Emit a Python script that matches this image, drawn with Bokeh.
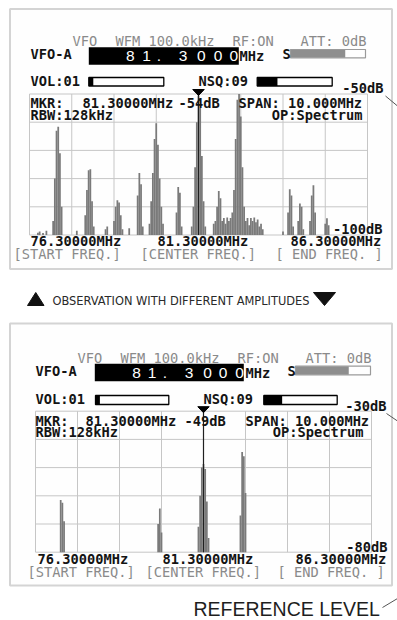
from bokeh.plotting import figure
from bokeh.models import Range1d
from bokeh.core.properties import value
from bokeh.embed import file_html
from bokeh.resources import INLINE

# ------------------------------------------------------------------ data
start_freq, center_freq, end_freq = 76.3, 81.3, 86.3
freq_divisions = [76.30, 77.55, 78.80, 80.05, 81.30, 82.55, 83.80, 85.05, 86.30]
top_levels = [-50, -60, -70, -80, -90, -100]
bottom_levels = [-30, -40, -50, -60, -70, -80]
freq_tick_labels = ["76.30000MHz", "81.30000MHz", "86.30000MHz"]
key_labels = ["[START FREQ.]", "[CENTER FREQ.]", "[ END FREQ. ]"]
vfo_digits = ["8", "1", ".", "3", "0", "0", "0"]

top_freq = [76.55, 76.60, 76.70, 76.80,
            77.00, 77.05, 77.10, 77.15, 77.20, 77.25,
            77.70,
            77.95, 78.00, 78.05, 78.10, 78.15, 78.20,
            78.55, 78.60,
            78.80, 78.85, 78.90, 78.95, 79.00, 79.05,
            79.25,
            79.50, 79.55, 79.60, 79.65,
            79.85, 79.90, 79.95, 80.00, 80.05, 80.10, 80.15, 80.20, 80.25,
            80.65, 80.70, 80.75, 80.80,
            81.10, 81.15, 81.20, 81.25, 81.30, 81.35, 81.40, 81.45, 81.50,
            81.75, 81.80, 81.85, 81.90, 81.95, 82.00, 82.05, 82.10, 82.15, 82.20, 82.25, 82.30,
            82.35, 82.40, 82.45, 82.50, 82.55, 82.60, 82.65,
            82.70, 82.75, 82.80, 82.85, 82.90, 82.95, 83.00, 83.05, 83.10, 83.15, 83.20,
            83.80,
            83.95, 84.00, 84.05, 84.10,
            84.25, 84.30, 84.35, 84.40,
            84.60, 84.65, 84.70, 84.75,
            85.05, 85.10, 85.15]
top_db = [-99.2, -98.8, -99.3, -98.5,
          -95, -80, -63, -61.6, -71, -90,
          -98.5,
          -93, -84, -77, -76.7, -88, -97,
          -98, -97,
          -95, -90, -87.7, -88.5, -93, -98,
          -97.6,
          -86, -78, -82, -97,
          -96, -88, -78, -66, -60.4, -68, -80, -90, -96,
          -92, -83, -85, -97,
          -97, -90, -76, -60, -50.5, -55, -72, -88, -97,
          -96, -95, -90, -84.4, -87, -95, -94, -96, -93.8, -95, -94, -92,
          -84, -66, -52, -50, -58, -76, -90,
          -95, -94, -96.5, -94, -95, -93.8, -95.5, -94.5, -97, -96, -98,
          -98.8,
          -92, -83.8, -86, -97,
          -95, -88.8, -90, -98,
          -95, -86, -82.4, -92,
          -96, -94.1, -96.5]

bottom_freq = [77.05, 77.10, 77.15,
               79.95, 80.00, 80.05,
               81.15, 81.20, 81.25, 81.30, 81.35, 81.40, 81.45,
               82.40, 82.45, 82.50, 82.55]
bottom_db = [-61.5, -62.5, -69,
             -70, -64.5, -73,
             -71, -60, -50, -48.7, -50.5, -62, -75,
             -67, -44.5, -46, -59]

# ------------------------------------------------------------------ canvas
PX0, PX1, PY0, PY1 = 0, 397, 0, 620
p = figure(width=PX1 - PX0, height=PY1 - PY0,
           x_range=Range1d(PX0, PX1), y_range=Range1d(PY1, PY0),
           output_backend="svg", toolbar_location=None, min_border=0,
           x_axis_location=None, y_axis_location=None)
p.grid.visible = False
p.outline_line_color = None
p.background_fill_color = "white"
p.border_fill_color = "white"

GRID = "#c6c6c6"
BAR = "#7a7a7a"
LCD = "#141414"
GRAY = "#8a8a8a"
MONO = value("DejaVu Sans Mono")
BASELINE_FIX = 0.36   # the text renderer sits the baseline this many em lower


def mapped(p0, p1, v0, v1, lo, hi):
    k = (v1 - v0) / (p1 - p0)
    return Range1d(start=v0 + (lo - p0) * k, end=v0 + (hi - p0) * k)


def put_text(items, color, size, font=MONO, style="normal", align="left"):
    fs = float(size.replace("px", ""))
    xs = [i[1] for i in items]
    ys = [i[2] - BASELINE_FIX * fs for i in items]
    ts = [i[0] for i in items]
    p.text(x=xs, y=ys, text=ts, text_color=color, text_font=font,
           text_font_size=size, text_font_style=style, text_align=align,
           text_baseline="alphabetic")


panels = [
    dict(name="top", box=(9.5, 391.5, 8.5, 268.5), grid=(29, 367, 93.5, 234.5),
         levels=top_levels, freq=top_freq, db=top_db,
         freqbox=(88.3, 238.3, 46.7, 64.3),
         digits_x=[129.7, 146, 158.3, 182.5, 200.8, 217.5, 233.3], digits_y=61.5,
         sbox=(290, 365, 49, 57.3), s_frac=0.73,
         volbox=(88.3, 163.3, 77, 85.5), vol_frac=0.06,
         nsqbox=(256.7, 331.7, 77, 85.5), nsq_frac=0.27,
         black_left=[("VFO-A", 30, 58), ("MHz", 239, 60), ("S", 282, 58),
                     ("VOL:01", 30, 85), ("NSQ:09", 198, 85),
                     ("MKR:", 30, 107), ("81.30000MHz", 82, 107), ("-54dB", 178, 107),
                     ("SPAN: 10.000MHz", 238, 107), ("RBW:128kHz", 30, 119),
                     (freq_tick_labels[0], 30, 245), (freq_tick_labels[1], 157, 245),
                     (freq_tick_labels[2], 290, 245)],
         black_right=[("-50dB", 383, 92.5), ("OP:Spectrum", 362, 119), ("-100dB", 382, 233)],
         gray_left=[("VFO", 72, 45), ("WFM 100.0kHz", 115, 45), ("RF:ON", 232, 45),
                    ("ATT: 0dB", 300, 45),
                    (key_labels[0], 13, 258), (key_labels[1], 140, 258), (key_labels[2], 275, 258)],
         callout=(385, 95.5, 397, 105.5)),
    dict(name="bot", box=(9.5, 391.5, 323, 585), grid=(35, 371, 410.7, 551.7),
         levels=bottom_levels, freq=bottom_freq, db=bottom_db,
         freqbox=(94.3, 243.3, 363.3, 380.7),
         digits_x=[136, 151.5, 164.5, 188.5, 207, 222.5, 239], digits_y=378.5,
         sbox=(295, 370, 365.7, 374.3), s_frac=0.71,
         volbox=(95, 168.3, 395, 404), vol_frac=0.06,
         nsqbox=(263.3, 336.7, 395, 404), nsq_frac=0.25,
         black_left=[("VFO-A", 35, 375), ("MHz", 245, 377), ("S", 287, 375),
                     ("VOL:01", 35, 403), ("NSQ:09", 203, 403),
                     ("MKR:", 35, 425), ("81.30000MHz", 85, 425), ("-49dB", 184, 425),
                     ("SPAN: 10.000MHz", 245, 425), ("RBW:128kHz", 35, 436.7),
                     (freq_tick_labels[0], 37, 563), (freq_tick_labels[1], 162, 563),
                     (freq_tick_labels[2], 295, 563)],
         black_right=[("-30dB", 386, 410.5), ("OP:Spectrum", 363, 436.7), ("-80dB", 387, 551)],
         gray_left=[("VFO", 77, 362), ("WFM 100.0kHz", 120, 362), ("RF:ON", 237, 362),
                    ("ATT: 0dB", 305, 362),
                    (key_labels[0], 27, 576), (key_labels[1], 145, 576), (key_labels[2], 277, 576)],
         callout=(386, 413, 397, 420.5)),
]

xr_all, yr_all = {}, {}
for pn in panels:
    gl, gr, gt, gb = pn["grid"]
    lv = pn["levels"]
    xr_all["f_" + pn["name"]] = mapped(gl, gr, start_freq, end_freq, PX0, PX1)
    yr_all["db_" + pn["name"]] = mapped(gb, gt, min(lv), max(lv), PY1, PY0)
p.extra_x_ranges = xr_all
p.extra_y_ranges = yr_all

for pn in panels:
    xr, yr = "f_" + pn["name"], "db_" + pn["name"]
    gl, gr, gt, gb = pn["grid"]
    lv = pn["levels"]
    lo, hi = min(lv), max(lv)

    # panel frame
    bl, br, bt, bb = pn["box"]
    p.quad(left=[bl], right=[br], top=[bt], bottom=[bb], fill_color="#fefefe",
           line_color="#d4d4d4", line_width=2)

    # graticule
    n = len(freq_divisions)
    p.segment(x0=freq_divisions, x1=freq_divisions, y0=[lo] * n, y1=[hi] * n,
              line_color=GRID, line_width=1, x_range_name=xr, y_range_name=yr)
    m = len(lv)
    p.segment(x0=[start_freq] * m, x1=[end_freq] * m, y0=lv, y1=lv,
              line_color=GRID, line_width=1, x_range_name=xr, y_range_name=yr)

    # spectrum
    p.vbar(x=pn["freq"], top=pn["db"], bottom=lo, width=0.052, fill_color=BAR,
           line_color=None, x_range_name=xr, y_range_name=yr)

    # marker
    p.segment(x0=[center_freq], x1=[center_freq], y0=[lo], y1=[hi],
              line_color="#202020", line_width=1.2, x_range_name=xr, y_range_name=yr)
    p.patch(x=[center_freq - 0.17, center_freq + 0.17, center_freq],
            y=[gt - 4.5, gt - 4.5, gt + 1.5], fill_color="black", line_color="black",
            x_range_name=xr)

    # header widgets
    fl, fr, ft, fb = pn["freqbox"]
    p.quad(left=[fl], right=[fr], top=[ft], bottom=[fb], fill_color="black", line_color=None)
    sl, sr, st, sb = pn["sbox"]
    p.quad(left=[sl], right=[sl + pn["s_frac"] * (sr - sl)], top=[st], bottom=[sb],
           fill_color="#8e8e8e", line_color=None)
    p.quad(left=[sl], right=[sr], top=[st], bottom=[sb], fill_color=None,
           line_color="#9a9a9a", line_width=1.2)
    for key, frac_key in (("volbox", "vol_frac"), ("nsqbox", "nsq_frac")):
        l, r, t, b = pn[key]
        p.quad(left=[l], right=[l + pn[frac_key] * (r - l)], top=[t], bottom=[b],
               fill_color="black", line_color=None)
        p.quad(left=[l], right=[r], top=[t], bottom=[b], fill_color=None,
               line_color="black", line_width=1.3)

    dfs = 15.5
    p.text(x=pn["digits_x"], y=[pn["digits_y"] - BASELINE_FIX * dfs] * len(vfo_digits),
           text=vfo_digits, text_color="white", text_font=value("Liberation Sans"),
           text_font_size=f"{dfs}px", text_align="center", text_baseline="alphabetic")

    put_text(pn["black_left"], LCD, "13.7px", style="bold")
    put_text(pn["black_right"], LCD, "13.7px", style="bold", align="right")
    put_text(pn["gray_left"], GRAY, "13.7px")

    cx0, cy0, cx1, cy1 = pn["callout"]
    p.segment(x0=[cx0], y0=[cy0], x1=[cx1], y1=[cy1], line_color="#555555", line_width=1)

# middle caption
p.patch(x=[27, 43.5, 35.25], y=[305, 305, 292], fill_color="#111111", line_color="#111111")
p.patch(x=[313, 335, 324], y=[292, 292, 305], fill_color="#111111", line_color="#111111")
put_text([("OBSERVATION WITH DIFFERENT AMPLITUDES", 52, 304.5)], "#2a2a2a", "12.7px",
         font=value("DejaVu Sans Condensed"))

# reference level callout
put_text([("REFERENCE LEVEL", 193, 615.5)], "#1e1e1e", "19.5px", font=value("Liberation Sans"))
p.segment(x0=[382], y0=[607], x1=[397], y1=[598], line_color="#555555", line_width=1)

open("out.html", "w").write(file_html(p, INLINE))
